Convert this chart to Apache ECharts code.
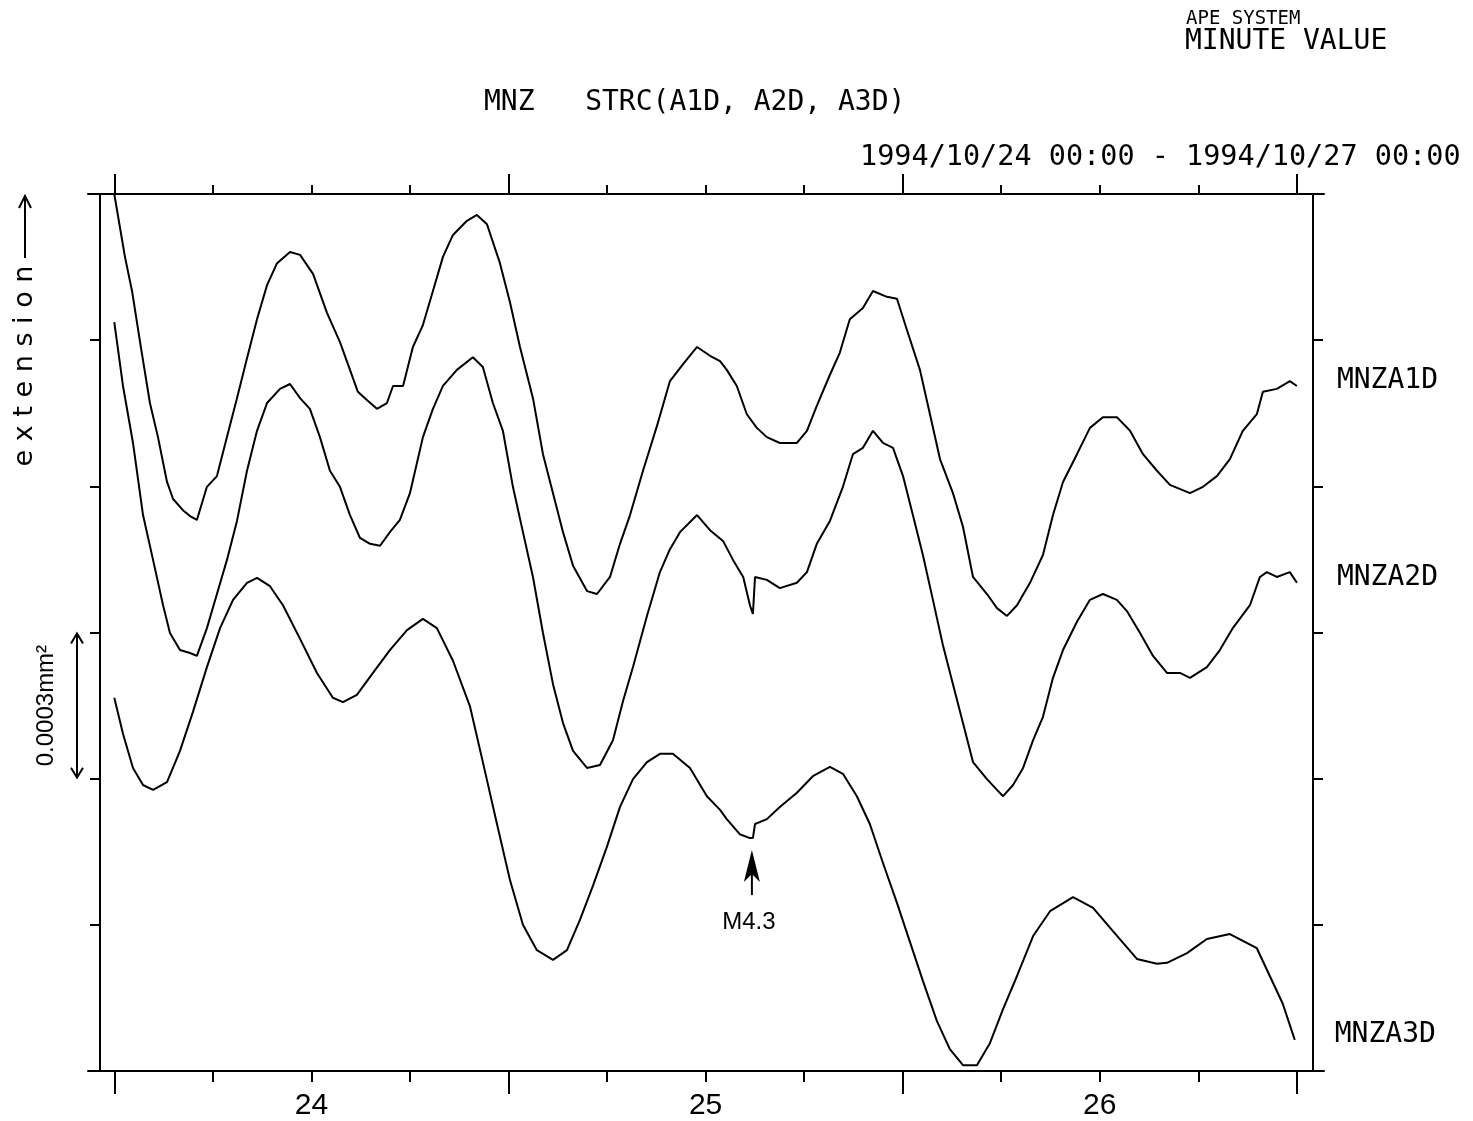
<!DOCTYPE html>
<html>
<head>
<meta charset="utf-8">
<title>MNZ STRC (A1D, A2D, A3D)</title>
<script src="https://cdn.jsdelivr.net/npm/echarts@6/dist/echarts.min.js"></script>
<style>
  html, body { margin: 0; padding: 0; background: #fff; }
  #main { width: 1473px; height: 1121px; }
</style>
</head>
<body>
<div id="main"></div>
<script>
// x: hours since 1994/10/24 00:00, y: strain in units of 0.0001 (one tick = 0.0003)
var a1d = [[0,18.0],[0.65,16.71],[1.08,16.01],[1.57,14.96],[2.17,13.71],[2.66,13.01],[3.21,12.09],[3.58,11.74],
  [4.18,11.51],[4.61,11.39],[5.03,11.31],[5.64,11.99],[6.25,12.21],[6.86,13.01],[7.47,13.81],[8.08,14.63],
  [8.69,15.43],[9.30,16.13],[9.91,16.58],[10.70,16.81],[11.31,16.75],[12.10,16.36],[12.95,15.56],[13.74,14.96],
  [14.35,14.39],[14.83,13.94],[15.38,13.77],[15.99,13.59],[16.60,13.71],[16.97,14.06],[17.58,14.06],[18.18,14.86],
  [18.79,15.31],[19.40,16.01],[20.01,16.71],[20.62,17.16],[21.47,17.45],[22.08,17.57],[22.69,17.38],[23.48,16.58],
  [24.09,15.78],[24.70,14.86],[25.49,13.81],[26.10,12.66],[26.71,11.86],[27.32,11.06],[27.93,10.37],[28.78,9.85],
  [29.39,9.79],[30.18,10.14],[30.79,10.82],[31.40,11.41],[32.19,12.32],[33.04,13.24],[33.83,14.16],[34.63,14.51],
  [35.48,14.86],[36.27,14.68],[36.88,14.57],[37.29,14.39],[37.90,14.06],[38.51,13.48],[39.12,13.20],[39.73,13.01],
  [40.52,12.89],[41.56,12.89],[42.17,13.14],[42.77,13.65],[43.57,14.29],[44.17,14.74],[44.78,15.43],[45.58,15.66],
  [46.19,16.01],[47.04,15.89],[47.65,15.85],[48.26,15.21],[49.05,14.39],[49.66,13.48],[50.27,12.56],[51.06,11.86],
  [51.67,11.17],[52.28,10.14],[53.13,9.79],[53.74,9.50],[54.35,9.34],[54.96,9.56],[55.75,10.02],[56.54,10.59],
  [57.15,11.41],[57.76,12.09],[58.61,12.66],[59.40,13.20],[60.19,13.42],[61.04,13.42],[61.84,13.14],[62.63,12.66],
  [63.48,12.32],[64.27,12.03],[65.49,11.86],[66.28,11.99],[67.13,12.21],[67.92,12.56],[68.71,13.14],[69.56,13.48],
  [69.93,13.94],[70.78,14.00],[71.57,14.16],[72.0,14.06]];

var a2d = [[0,15.37],[0.53,14.06],[1.14,12.89],[1.75,11.41],[2.36,10.49],[2.97,9.56],[3.39,8.99],[4.00,8.64],
  [4.61,8.58],[5.03,8.52],[5.64,9.09],[6.25,9.79],[6.86,10.49],[7.47,11.29],[8.08,12.32],[8.69,13.14],
  [9.30,13.71],[10.09,14.00],[10.70,14.10],[11.31,13.81],[11.91,13.59],[12.52,13.01],[13.13,12.32],[13.74,11.99],
  [14.35,11.41],[14.96,10.94],[15.57,10.82],[16.18,10.78],[16.78,11.06],[17.39,11.31],[18.00,11.86],[18.79,13.01],
  [19.40,13.59],[20.01,14.06],[20.86,14.39],[21.83,14.65],[22.44,14.45],[23.05,13.71],[23.66,13.14],[24.27,11.99],
  [24.88,11.06],[25.49,10.14],[26.10,8.99],[26.71,7.94],[27.32,7.14],[27.93,6.57],[28.78,6.22],[29.57,6.28],
  [30.36,6.79],[30.97,7.59],[31.58,8.29],[32.43,9.34],[33.22,10.24],[33.83,10.71],[34.44,11.06],[35.48,11.41],
  [36.27,11.10],[37.06,10.88],[37.67,10.49],[38.29,10.14],[38.70,9.56],[38.88,9.38],[39.01,10.14],[39.73,10.08],
  [40.52,9.91],[41.56,10.02],[42.17,10.24],[42.77,10.82],[43.57,11.29],[44.36,11.99],[44.97,12.66],[45.58,12.79],
  [46.19,13.14],[46.80,12.89],[47.41,12.79],[48.02,12.21],[48.62,11.41],[49.23,10.59],[49.84,9.67],[50.45,8.74],
  [51.06,7.94],[51.67,7.14],[52.28,6.34],[53.13,5.99],[53.74,5.77],[54.11,5.64],[54.72,5.87],[55.33,6.22],
  [55.94,6.79],[56.54,7.27],[57.15,8.07],[57.76,8.64],[58.61,9.22],[59.40,9.67],[60.19,9.79],[61.04,9.67],
  [61.65,9.44],[62.45,8.99],[63.24,8.52],[64.09,8.17],[64.88,8.17],[65.49,8.07],[66.52,8.29],[67.31,8.64],
  [68.10,9.09],[69.14,9.56],[69.75,10.14],[70.17,10.24],[70.78,10.14],[71.57,10.24],[72.0,10.02]];

var a3d = [[0,7.66],[0.53,6.92],[1.14,6.22],[1.75,5.87],[2.36,5.77],[3.21,5.93],[4.00,6.57],[4.79,7.37],
  [5.64,8.29],[6.44,9.09],[7.23,9.67],[8.08,10.02],[8.69,10.12],[9.48,9.95],[10.27,9.56],[11.31,8.87],
  [12.34,8.17],[13.31,7.66],[13.92,7.57],[14.77,7.72],[15.75,8.17],[16.78,8.64],[17.82,9.05],[18.79,9.28],
  [19.64,9.09],[20.62,8.42],[21.65,7.49],[22.44,6.34],[23.30,5.07],[24.09,3.92],[24.88,3.00],[25.73,2.48],
  [26.71,2.28],[27.56,2.48],[28.35,3.10],[29.14,3.80],[29.99,4.60],[30.79,5.42],[31.58,5.99],[32.43,6.34],
  [33.22,6.51],[34.01,6.51],[35.05,6.22],[36.08,5.64],[36.88,5.36],[37.29,5.17],[38.08,4.86],[38.70,4.78],
  [38.88,4.78],[39.01,5.07],[39.73,5.17],[40.52,5.42],[41.56,5.71],[42.53,6.05],[43.57,6.24],[44.36,6.10],
  [45.21,5.64],[46.00,5.07],[46.80,4.27],[47.65,3.45],[48.44,2.65],[49.23,1.85],[50.08,1.03],[50.87,0.45],
  [51.67,0.12],[52.52,0.12],[53.31,0.57],[54.11,1.27],[54.96,1.95],[55.94,2.77],[56.97,3.28],[58.37,3.57],
  [59.59,3.35],[60.80,2.87],[62.26,2.30],[63.48,2.20],[64.09,2.22],[65.31,2.42],[66.52,2.71],[67.92,2.81],
  [69.56,2.52],[70.35,1.95],[71.14,1.38],[71.87,0.64]];

var seriesNames = ['MNZA1D', 'MNZA2D', 'MNZA3D'];
var dayTicks = [0, 24, 48, 72];
var hourTicks = [6, 12, 18, 30, 36, 42, 54, 60, 66];
var dayCenters = [12, 36, 60];
var dayLabels = ['24', '25', '26'];
var quakeHour = 38.88;
var quakeLabel = 'M4.3';
var scaleBar = [6, 9];
var scaleText = '0.0003mm²';

var mono = 'DejaVu Sans Mono';
var xMin = -1.6, xMax = 73.65;
var black = '#000';

var chart = echarts.init(document.getElementById('main'));

function xAxisDef(pos, ticks, len, withLine, withLabels) {
  return {
    type: 'value', position: pos, min: xMin, max: xMax,
    axisLine: { show: withLine, onZero: false, lineStyle: { color: black, width: 2 } },
    axisTick: { show: true, customValues: ticks, length: len, lineStyle: { color: black, width: 2 } },
    axisLabel: {
      show: withLabels, customValues: dayCenters, margin: 20,
      color: black, fontSize: 30, fontFamily: 'Liberation Sans',
      formatter: function (v) {
        var i = dayCenters.indexOf(v);
        return i >= 0 ? dayLabels[i] : '';
      }
    },
    splitLine: { show: false }
  };
}

function yAxisDef(pos, off) {
  return {
    type: 'value', position: pos, offset: off, min: 0, max: 18, interval: 3,
    axisLine: { show: true, onZero: false, lineStyle: { color: black, width: 2 } },
    axisTick: { show: true, length: 10, lineStyle: { color: black, width: 2 } },
    axisLabel: { show: false },
    splitLine: { show: false }
  };
}

function lineSeries(name, data) {
  return {
    name: name, type: 'line', data: data,
    xAxisIndex: 0, yAxisIndex: 0,
    showSymbol: false, symbol: 'none',
    lineStyle: { color: black, width: 2 },
    endLabel: {
      show: true, formatter: name, distance: 40, offset: [0, -5],
      color: black, fontSize: 28, fontFamily: mono
    }
  };
}

var option = {
  animation: false,
  backgroundColor: '#fff',
  grid: { left: 88, right: 149, top: 194, bottom: 50, containLabel: false, outerBoundsMode: 'none' },
  xAxis: [
    xAxisDef('bottom', hourTicks, 11, true, true),
    xAxisDef('bottom', dayTicks, 23, false, false),
    xAxisDef('top', hourTicks, 9, true, false),
    xAxisDef('top', dayTicks, 20, false, false)
  ],
  yAxis: [yAxisDef('left', -12), yAxisDef('right', -11)],
  series: [
    lineSeries(seriesNames[0], a1d),
    lineSeries(seriesNames[1], a2d),
    lineSeries(seriesNames[2], a3d)
  ]
};
chart.setOption(option);

// annotations placed through the chart's own scales
var quakePt = a3d.filter(function (d) { return d[0] === quakeHour; })[0];
var qp = chart.convertToPixel({ gridIndex: 0 }, quakePt);
var yTop = chart.convertToPixel({ yAxisIndex: 0 }, scaleBar[1]);
var yBot = chart.convertToPixel({ yAxisIndex: 0 }, scaleBar[0]);
var sx = 77;
var qx = qp[0] - 1, qy = qp[1];

chart.setOption({
  graphic: [
    { type: 'text', x: 1186, y: 19, style: { text: 'APE SYSTEM', font: '19px ' + mono, fill: black, verticalAlign: 'middle' } },
    { type: 'text', x: 1185, y: 42, style: { text: 'MINUTE VALUE', font: '28px ' + mono, fill: black, verticalAlign: 'middle' } },
    { type: 'text', x: 484, y: 103, style: { text: 'MNZ   STRC(A1D, A2D, A3D)', font: '28px ' + mono, fill: black, verticalAlign: 'middle' } },
    { type: 'text', x: 860, y: 158, style: { text: '1994/10/24 00:00 - 1994/10/27 00:00', font: '28.5px ' + mono, fill: black, verticalAlign: 'middle' } },
    { type: 'text', x: 25, y: 366, rotation: Math.PI / 2,
      style: { text: 'e x t e n s i o n', font: '27px DejaVu Sans', fill: black, align: 'center', verticalAlign: 'middle' } },
    { type: 'polyline', shape: { points: [[25, 258], [25, 196]] }, style: { stroke: black, lineWidth: 2 } },
    { type: 'polyline', shape: { points: [[19, 208], [25, 196], [31, 208]] }, style: { stroke: black, lineWidth: 2, fill: null } },
    // scale bar
    { type: 'polyline', shape: { points: [[sx, yTop + 1], [sx, yBot - 1]] }, style: { stroke: black, lineWidth: 2 } },
    { type: 'polyline', shape: { points: [[sx - 6, yTop + 11], [sx, yTop + 1], [sx + 6, yTop + 11]] }, style: { stroke: black, lineWidth: 2, fill: null } },
    { type: 'polyline', shape: { points: [[sx - 6, yBot - 11], [sx, yBot - 1], [sx + 6, yBot - 11]] }, style: { stroke: black, lineWidth: 2, fill: null } },
    { type: 'text', x: 46, y: (yTop + yBot) / 2, rotation: Math.PI / 2,
      style: { text: scaleText, font: '24px Liberation Sans', fill: black, align: 'center', verticalAlign: 'middle' } },
    // earthquake marker
    { type: 'polyline', shape: { points: [[qx, qy + 16], [qx, qy + 57]] }, style: { stroke: black, lineWidth: 2 } },
    { type: 'polygon', shape: { points: [[qx, qy + 12], [qx - 8, qy + 44], [qx, qy + 36], [qx + 8, qy + 44]] }, style: { fill: black } },
    { type: 'text', x: qx - 3, y: qy + 84,
      style: { text: quakeLabel, font: '24px Liberation Sans', fill: black, align: 'center', verticalAlign: 'middle' } }
  ]
});
</script>
</body>
</html>
